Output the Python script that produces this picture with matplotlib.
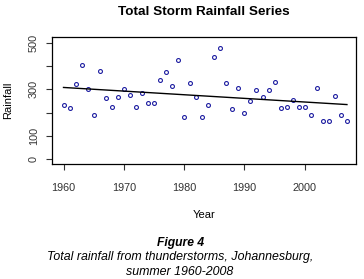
import matplotlib.pyplot as plt
import numpy as np

plt.rcParams['font.family'] = ['Liberation Sans', 'DejaVu Sans']

# 数据：1960-2007 年夏季雷暴总降雨量
years = list(range(1960, 2008))
rainfall = [234, 221, 324, 405, 303, 191, 378, 264, 224, 266,
            303, 278, 224, 284, 243, 241, 341, 373, 316, 427,
            181, 327, 266, 181, 231, 440, 477, 326, 217, 307,
            198, 251, 298, 266, 296, 333, 221, 225, 253, 225,
            225, 191, 307, 164, 164, 271, 190, 165]

x_ticks = [1960, 1970, 1980, 1990, 2000]
y_ticks = [0, 100, 200, 300, 400, 500]
y_tick_labels = ['0', '100', '', '300', '', '500']

x = np.array(years)
y = np.array(rainfall)
k, b = np.polyfit(x, y, 1)   # 线性趋势

fig = plt.figure(figsize=(3.64, 2.79), dpi=100)
ax = fig.add_axes([0.143, 0.412, 0.835, 0.455])

ax.plot(x, y, 'o', markersize=2.8, markerfacecolor='none',
        markeredgecolor='#1c1ca0', markeredgewidth=0.8)
ax.plot(x, k * x + b, color='black', linewidth=1.0)

ax.set_xlim(1958.1, 2008.5)
ax.set_ylim(-20, 524)
ax.set_xticks(x_ticks)
ax.set_yticks(y_ticks)
ax.set_yticklabels(y_tick_labels, rotation=90, va='center')
ax.tick_params(labelsize=7.8, length=4.5, width=0.8, colors='#333333',
               labelcolor='#333333')
ax.tick_params(axis='x', pad=9.5)
ax.tick_params(axis='y', pad=5)
for s in ax.spines.values():
    s.set_linewidth(0.9)

ax.set_title('Total Storm Rainfall Series', fontsize=9.7,
             fontweight='bold', pad=16)
ax.set_xlabel('Year', fontsize=8, labelpad=12)
ax.set_ylabel('Rainfall', fontsize=8, labelpad=11)

fig.text(0.495, 0.130, 'Figure 4', ha='center', va='center',
         fontsize=8.7, fontweight='bold', style='italic')
fig.text(0.495, 0.080, 'Total rainfall from thunderstorms, Johannesburg,',
         ha='center', va='center', fontsize=8.9, style='italic')
fig.text(0.493, 0.026, 'summer 1960-2008', ha='center', va='center',
         fontsize=8.9, style='italic')

fig.savefig('out.png', dpi=100)
